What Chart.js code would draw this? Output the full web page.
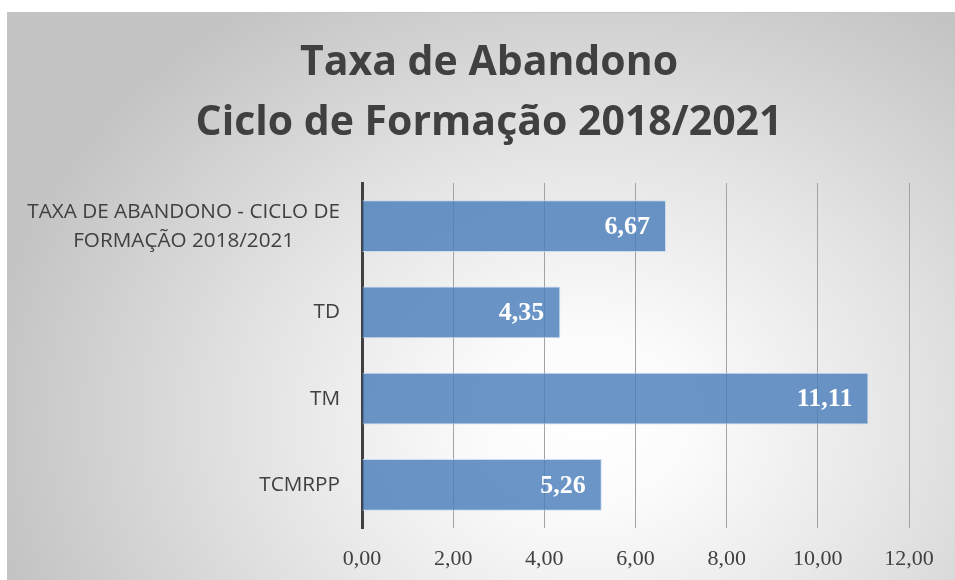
<!DOCTYPE html>
<html>
<head>
<meta charset="utf-8">
<script src="https://cdn.jsdelivr.net/npm/chart.js@4"></script>
<style>
    html, body {
        margin: 0;
        padding: 0;
        width: 955px;
        height: 580px;
        overflow: hidden;
        background: #ffffff;
    }
    .frame {
        position: absolute;
        left: 7px;
        top: 12px;
        width: 964px;
        height: 580px;
        border: 1px solid #c4c4c4;
        background: radial-gradient(ellipse 62% 85% at 60% 70%, #ffffff 0%, #fbfbfb 18%, #e4e4e4 55%, #c4c4c4 100%);
    }
    canvas {
        display: block;
    }
</style>
</head>
<body>
<div class="frame">
    <canvas id="chart" width="947" height="567"></canvas>
</div>
<script>
const titleLines = ["Taxa de Abandono", "Ciclo de Formação 2018/2021"]
const categories = [
    ["TAXA DE ABANDONO - CICLO DE", "FORMAÇÃO 2018/2021"],
    ["TD"],
    ["TM"],
    ["TCMRPP"],
]
const values = [6.67, 4.35, 11.11, 5.26]
const xTicks = [0, 2, 4, 6, 8, 10, 12]

const textColor = "#404040"
const fmt = (v) => v.toFixed(2).replace(".", ",")

// title centred on the whole frame (which runs past the right edge)
const chartTitle = {
    id: "chartTitle",
    afterDraw(chart) {
        const { ctx } = chart
        ctx.save()
        ctx.font = "bold 41px 'Open Sans'"
        ctx.fillStyle = textColor
        ctx.textAlign = "center"
        ctx.textBaseline = "middle"
        titleLines.forEach((t, i) => ctx.fillText(t, 481, 50 + i * 60))
        ctx.restore()
    },
}

// category labels: right aligned block, lines centred on each other
const categoryLabels = {
    id: "categoryLabels",
    afterDraw(chart) {
        const { ctx, scales } = chart
        const y = scales.y
        const right = chart.chartArea.left - 22
        const lineGap = 29
        ctx.save()
        ctx.font = "20.7px 'Open Sans'"
        ctx.fillStyle = textColor
        ctx.textAlign = "center"
        ctx.textBaseline = "middle"
        categories.forEach((lines, i) => {
            const cy = y.getPixelForTick(i)
            const w = Math.max(...lines.map((l) => ctx.measureText(l).width))
            const cx = right - w / 2
            const top = cy - ((lines.length - 1) * lineGap) / 2
            lines.forEach((l, j) => ctx.fillText(l, cx, top + j * lineGap))
        })
        ctx.restore()
    },
}

// value labels inside the bar end
const valueLabels = {
    id: "valueLabels",
    afterDatasetsDraw(chart) {
        const { ctx } = chart
        const meta = chart.getDatasetMeta(0)
        ctx.save()
        ctx.font = "bold 26px 'Liberation Serif'"
        ctx.fillStyle = "#ffffff"
        ctx.textAlign = "right"
        ctx.textBaseline = "middle"
        meta.data.forEach((bar, i) => {
            ctx.fillText(fmt(values[i]), bar.x - 16, bar.y + 1)
        })
        ctx.restore()
    },
}

new Chart(document.getElementById("chart"), {
    type: "bar",
    data: {
        labels: categories.map((c) => c.join(" ")),
        datasets: [
            {
                data: values,
                backgroundColor: "rgba(74, 126, 187, 0.82)",
                borderColor: "rgba(200, 218, 240, 0.9)",
                borderWidth: 1,
                borderSkipped: "start",
                categoryPercentage: 1,
                barPercentage: 0.6,
            },
        ],
    },
    options: {
        indexAxis: "y",
        responsive: false,
        animation: false,
        layout: {
            padding: { left: 0, right: 46, top: 170, bottom: 0 },
        },
        plugins: {
            legend: { display: false },
            tooltip: { enabled: false },
            title: { display: false },
        },
        scales: {
            x: {
                min: 0,
                max: 12,
                afterBuildTicks: (scale) => {
                    scale.ticks = xTicks.map((v) => ({ value: v }))
                },
                afterFit: (scale) => {
                    scale.height = 52
                },
                grid: {
                    color: "#a3a3a3",
                    lineWidth: 1,
                    drawTicks: false,
                },
                border: { display: false },
                ticks: {
                    color: textColor,
                    padding: 18,
                    font: { family: "'Liberation Serif'", size: 22 },
                    callback: (v) => fmt(v),
                },
            },
            y: {
                afterFit: (scale) => {
                    scale.width = 354
                },
                grid: { display: false },
                border: { display: true, color: "#404040", width: 3 },
                ticks: { display: false },
            },
        },
    },
    plugins: [chartTitle, categoryLabels, valueLabels],
})
</script>
</body>
</html>
